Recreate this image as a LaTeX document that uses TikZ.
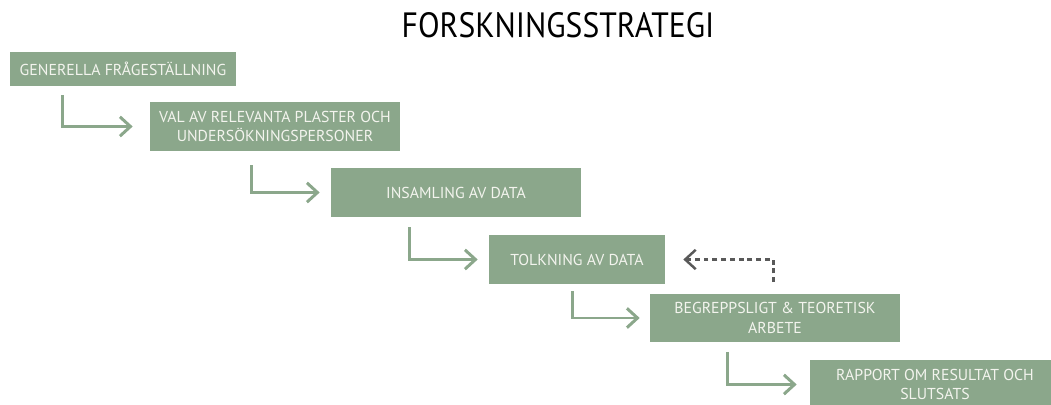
\documentclass[tikz,border=0pt]{standalone}
\usepackage{fontspec}
\setmainfont{PT Sans}
\newfontfamily\titlefont[FakeStretch=0.9]{PT Sans}
\usepackage{xcolor}
\usepackage{tikz}
\usetikzlibrary{arrows.meta}

\definecolor{sage}{HTML}{8BA78B}
\definecolor{paletext}{HTML}{F3F4EE}
\definecolor{darkgray}{HTML}{595959}

\begin{document}
\begin{tikzpicture}[x=0.02cm, y=-0.02cm,
  stage/.style={rectangle, fill=sage, minimum width=5cm, minimum height=0.98cm, inner sep=0pt, text=paletext, align=center, font=\fontsize{9}{11.3}\selectfont},
  flow/.style={draw=sage, line width=1.7pt, -{Straight Barb[length=6pt,width=11pt]}},
  feedback/.style={draw=darkgray, line width=1.4pt, dash pattern=on 2.8pt off 2.2pt, -{Straight Barb[length=6pt,width=11pt]}}]
\useasboundingbox (0,0) rectangle (1051,405);

\node (title) at (558,25) {\titlefont\fontsize{20}{24}\selectfont FORSKNINGSSTRATEGI};

\node (fraga) [stage, minimum width=4.52cm, minimum height=0.68cm] at (123,69) {GENERELLA FRÅGESTÄLLNING};

\node (urval) [stage] at (275,126.5) {VAL AV RELEVANTA PLASTER OCH\\UNDERSÖKNINGSPERSONER};

\node (insamling) [stage] at (456,192.5) {INSAMLING AV DATA};

\node (tolkning) [stage, minimum width=3.52cm] at (577,259.5) {TOLKNING AV DATA};

\node (teori) [stage] at (775,318) {BEGREPPSLIGT \& TEORETISK\\ARBETE};

\node (rapport) [stage] at (935,384.5) {RAPPORT OM RESULTAT OCH\\SLUTSATS};

\draw[flow] ([xshift=1.06cm, yshift=-0.18cm]fraga.south west) |- ([xshift=-0.34cm]urval.west);
\draw[flow] ([xshift=2.04cm, yshift=-0.28cm]urval.south west) |- ([xshift=-0.22cm]insamling.west);
\draw[flow] ([xshift=1.58cm, yshift=-0.2cm]insamling.south west) |- ([xshift=-0.22cm]tolkning.west);
\draw[flow] ([xshift=1.68cm, yshift=-0.14cm]tolkning.south west) |- ([xshift=-0.2cm]teori.west);
\draw[flow] ([xshift=1.56cm, yshift=-0.18cm]teori.south west) |- ([xshift=-0.26cm]rapport.west);

\draw[feedback] ([xshift=2.48cm, yshift=0.22cm]teori.north west) |- ([xshift=0.36cm]tolkning.east);

\end{tikzpicture}
\end{document}
